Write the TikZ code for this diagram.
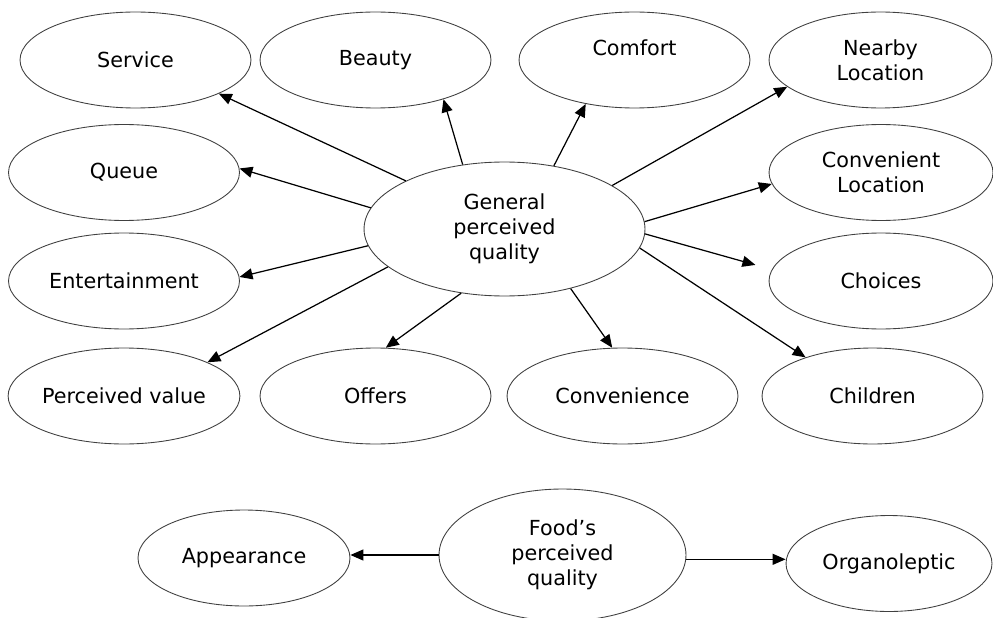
\documentclass[tikz,border=0pt]{standalone}
\usepackage{fontspec}
\setmainfont{DejaVu Sans}
\usepackage{tikz}
\usetikzlibrary{shapes}
\usetikzlibrary{arrows.meta}
\tikzstyle{bulle}=[
        ellipse,
        draw=black!75,
        line width=0.5pt,
        inner sep=0pt,
        align=center,
        minimum width=4.62cm,
        minimum height=1.92cm
]
\tikzstyle{suite}=[-{Triangle[length=2.6mm,width=2.2mm]},line width=0.7pt]

\begin{document}
\begin{tikzpicture}[x=0.02cm,y=-0.02cm,font=\fontsize{11.8}{14.2}\selectfont]
\useasboundingbox (0,0) rectangle (993,618);
\node[bulle] (service) at (135.5,60) {Service};
\node[bulle] (beauty) at (375.5,60) {Beauty};
\node[bulle] (comfort) at (634.5,60) {Comfort\\\mbox{}};
\node[bulle,minimum width=4.46cm] (nearby) at (880.5,60) {Nearby\\Location};
\node[bulle] (queue) at (124,172.5) {Queue};
\node[bulle,minimum width=4.48cm] (convloc) at (881,172.5) {Convenient\\Location};
\node[bulle,minimum width=5.62cm,minimum height=2.68cm] (general) at (504.5,229) {General\\perceived\\quality};
\node[bulle] (entert) at (124,281) {Entertainment};
\node[bulle,minimum width=4.48cm] (choices) at (881,281) {Choices};
\node[bulle] (value) at (124,396) {Perceived value};
\node[bulle] (offers) at (375.5,396) {Offers};
\node[bulle] (conven) at (622.5,396) {Convenience};
\node[bulle,minimum width=4.42cm] (children) at (872.5,396) {Children};
\node[bulle,minimum width=4.94cm,minimum height=2.64cm] (food) at (562.5,555) {Food’s\\perceived\\quality};
\node[bulle,minimum width=4.24cm] (appear) at (244,558) {Appearance};
\node[bulle,minimum width=4.12cm] (organo) at (889,563.5) {Organoleptic};
%fleches
\draw[suite] (general.154.4) -- (service.338);
\draw[suite] (general.123.6) -- (beauty.330);
\draw[suite] (general.52.5) -- (comfort.222.5);
\draw[suite] (general.22.5) -- (nearby.196);
\draw[suite] (general.171.7) -- (queue.2.2);
\draw[suite] (general.3.7) -- (convloc.186);
\draw[suite] (general.187.2) -- (entert.2);
\draw[suite,shorten >=0.34cm] (general.358) -- (choices.174.2);
\draw[suite] (general.198.9) -- (value.22);
\draw[suite] (general.236.4) -- (offers.78.8);
\draw[suite] (general.318.5) -- (conven.102.3);
\draw[suite] (general.352) -- (children.150.9);
\draw[suite] (food.west) -- (food.west -| appear.east);
\draw[suite] (food.358.5) -- (food.358.5 -| organo.west);
\end{tikzpicture}
\end{document}
